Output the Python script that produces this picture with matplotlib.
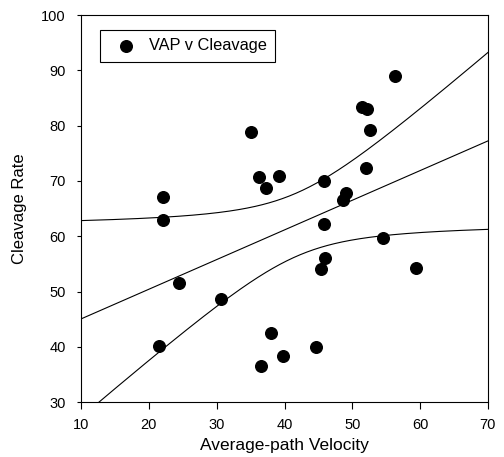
import numpy as np
import matplotlib
matplotlib.use("Agg")
import matplotlib.pyplot as plt

plt.rcParams['font.family'] = ['Liberation Sans', 'DejaVu Sans']

vap = [56.3, 51.5, 52.2, 52.6, 35.0, 36.3, 39.2, 37.3, 45.8, 52.0, 49.0, 48.6,
       22.1, 45.8, 22.1, 54.6, 45.9, 45.4, 59.4, 24.5, 30.6, 21.5, 38.0, 39.8,
       36.5, 44.6]
cleavage = [89.0, 83.4, 83.1, 79.2, 78.9, 70.8, 70.9, 68.8, 70.0, 72.3, 67.9, 66.5,
            67.1, 62.2, 62.9, 59.7, 56.1, 54.1, 54.2, 51.6, 48.7, 40.1, 42.5, 38.4,
            36.5, 40.0]
xticks = [10, 20, 30, 40, 50, 60, 70]
yticks = [30, 40, 50, 60, 70, 80, 90, 100]

x = np.array(vap)
y = np.array(cleavage)
n = len(x)
b, a = np.polyfit(x, y, 1)
resid = y - (a + b * x)
s = np.sqrt(np.sum(resid ** 2) / (n - 2))
sxx = np.sum((x - x.mean()) ** 2)
t = 2.064
xs = np.linspace(10, 70, 300)
yh = a + b * xs
half = t * s * np.sqrt(1 / n + (xs - x.mean()) ** 2 / sxx)

fig = plt.figure(figsize=(5.04, 4.57), dpi=100)
ax = fig.add_axes([0.161, 0.120, 0.807, 0.847])
ax.plot(xs, yh, color='black', lw=0.8)
ax.plot(xs, yh + half, color='black', lw=0.8)
ax.plot(xs, yh - half, color='black', lw=0.8)
ax.scatter(x, y, s=70, color='black', zorder=3, label='VAP v Cleavage')
ax.set_xlim(10, 70)
ax.set_ylim(30, 100)
ax.set_xticks(xticks)
ax.set_yticks(yticks)
ax.tick_params(axis='x', labelsize=10.5, length=5, width=0.8, pad=6.5)
ax.tick_params(axis='y', labelsize=10.5, length=3, width=0.8, pad=8)
ax.set_xlabel('Average-path Velocity', fontsize=12.5, labelpad=4)
ax.set_ylabel('Cleavage Rate', fontsize=12, labelpad=10)
for sp in ax.spines.values():
    sp.set_linewidth(0.8)
leg = ax.legend(loc='upper left', bbox_to_anchor=(0.047, 0.961), borderaxespad=0,
                fontsize=11.8, fancybox=False, edgecolor='black', framealpha=1,
                handletextpad=0.3, handlelength=2.2, borderpad=0.5, scatterpoints=1)
leg.get_frame().set_linewidth(0.8)
fig.savefig('out.png', dpi=100)
